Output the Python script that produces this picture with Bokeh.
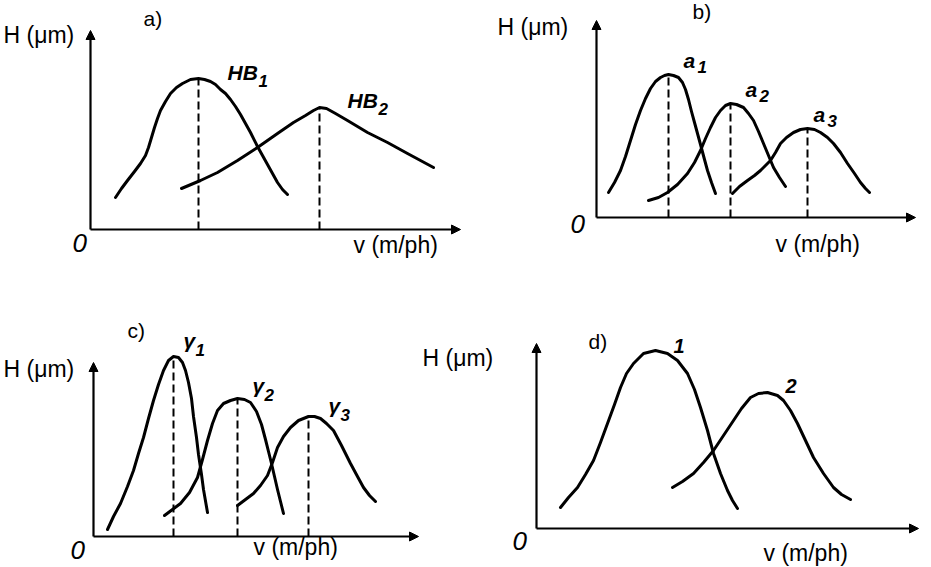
from bokeh.plotting import figure
from bokeh.layouts import column, row
from bokeh.models import Range1d, Arrow, NormalHead
from bokeh.core.properties import value
from bokeh.embed import file_html
from bokeh.resources import INLINE

# ---------------- data (arbitrary units: v along x, H along y) ----------------
# panel a
a_hb1_v = [25, 31, 37, 44, 50, 55, 58, 61, 64, 67, 70, 75, 80, 86, 92, 100, 108, 114, 120, 125, 130, 135, 140, 145, 150, 155, 160, 167, 172, 177, 182, 187, 192, 197]
a_hb1_h = [32, 41, 49, 58, 66, 74, 82, 92, 102, 111, 119, 128, 136, 142, 146, 150, 151, 150, 148, 145, 140, 136, 130, 123, 115, 106, 97, 83, 74, 65, 56, 47, 40, 35]
a_hb2_v = [91, 110, 127, 147, 167, 187, 203, 215, 223, 229, 236, 245, 257, 277, 297, 317, 343]
a_hb2_h = [41, 49, 57, 69, 82, 96, 107, 114, 119, 122, 121, 116, 109, 97, 87, 76, 62]
a_peak_v = [108, 229]
a_peak_h = [151, 122]
a_names = ["HB", "HB"]
a_subs = ["1", "2"]

# panel b
b_a1_v = [12, 18, 24, 29, 34, 39, 44, 49, 54, 59, 64, 68, 72, 77, 82, 86, 89, 92, 95, 98, 101, 104, 108, 111, 115, 119]
b_a1_h = [25, 35, 47, 61, 77, 93, 107, 119, 129, 136, 140, 142, 143, 142, 140, 135, 128, 118, 106, 95, 84, 73, 58, 47, 35, 24]
b_a2_v = [52, 62, 71, 81, 91, 98, 104, 109, 114, 119, 124, 129, 134, 140, 147, 152, 157, 162, 167, 172, 177, 183, 189]
b_a2_h = [17, 20, 25, 33, 44, 55, 67, 79, 90, 100, 107, 112, 114, 113, 110, 104, 97, 86, 74, 62, 50, 40, 31]
b_a3_v = [136, 143, 151, 158, 164, 169, 174, 179, 184, 190, 197, 204, 211, 218, 224, 231, 237, 244, 251, 258, 264, 269, 273]
b_a3_h = [24, 31, 37, 42, 47, 52, 57, 65, 74, 80, 85, 88, 89, 88, 85, 80, 74, 65, 54, 44, 35, 29, 25]
b_peak_v = [72, 134, 211]
b_peak_h = [143, 114, 89]
b_names = ["a", "a", "a"]
b_subs = ["1", "2", "3"]

# panel c
c_g1_v = [14, 20, 27, 34, 40, 45, 50, 55, 60, 65, 70, 75, 80, 85, 89, 92, 95, 98, 100, 103, 105, 108, 110, 114]
c_g1_h = [7, 20, 33, 50, 66, 83, 99, 118, 136, 152, 166, 176, 180, 179, 174, 166, 154, 138, 120, 99, 82, 62, 47, 24]
c_g2_v = [71, 79, 87, 96, 104, 109, 114, 119, 124, 130, 137, 144, 151, 157, 163, 168, 172, 175, 178, 181, 184, 187, 190]
c_g2_h = [21, 27, 33, 44, 59, 77, 96, 113, 126, 133, 136, 138, 137, 134, 125, 112, 97, 85, 73, 60, 47, 35, 23]
c_g3_v = [144, 152, 160, 167, 174, 179, 184, 190, 197, 205, 215, 221, 227, 233, 240, 248, 257, 264, 270, 276, 282]
c_g3_h = [31, 37, 43, 51, 61, 74, 89, 100, 109, 116, 120, 120, 118, 113, 106, 91, 73, 60, 49, 41, 35]
c_peak_v = [80, 144, 215]
c_peak_h = [180, 138, 120]
c_names = ["γ", "γ", "γ"]
c_subs = ["1", "2", "3"]

# panel d
d_c1_v = [24, 32, 41, 49, 57, 64, 71, 78, 84, 90, 97, 107, 119, 131, 141, 151, 158, 164, 171, 177, 184, 191, 196, 201]
d_c1_h = [21, 31, 41, 54, 68, 86, 105, 124, 141, 155, 165, 175, 178, 175, 168, 155, 139, 121, 98, 75, 55, 38, 28, 20]
d_c2_v = [136, 146, 157, 167, 177, 187, 197, 205, 214, 222, 231, 241, 247, 254, 261, 269, 277, 287, 297, 305, 314]
d_c2_h = [41, 47, 55, 66, 78, 93, 108, 120, 131, 135, 136, 133, 128, 118, 105, 88, 71, 55, 41, 34, 29]
d_names = ["1", "2"]

axis_title_y = "H (μm)"
axis_title_x = "v (m/ph)"
origin_label = "0"
panel_tags = ["a)", "b)", "c)", "d)"]

FONT = "Liberation Sans"


def make_panel(width, height, ox, oy, x_len, y_len):
    p = figure(width=width, height=height, x_range=Range1d(-ox, width - ox),
               y_range=Range1d(oy - height, oy), min_border=0,
               toolbar_location=None, output_backend="svg",
               x_axis_location=None, y_axis_location=None)
    p.grid.visible = False
    p.outline_line_color = None
    p.background_fill_color = "white"
    p.border_fill_color = "white"
    p.add_layout(Arrow(x_start=0, y_start=0, x_end=x_len, y_end=0, line_width=2.2,
                       end=NormalHead(size=9, fill_color="black", line_color="black")))
    p.add_layout(Arrow(x_start=0, y_start=0, x_end=0, y_end=y_len, line_width=2.2,
                       end=NormalHead(size=9, fill_color="black", line_color="black")))
    return p


def put_text(p, x, y, t, size, style="normal", font=FONT):
    p.text(x=[x], y=[y], text=[t], text_font=value(font), text_font_size=f"{size}px",
           text_font_style=style, text_align="left", text_baseline="middle",
           text_color="black")


def common_texts(p, ht, tg, o, vt):
    put_text(p, ht[0], ht[1], axis_title_y, 23)
    put_text(p, tg[0], tg[1], tg[2], 21)
    put_text(p, o[0], o[1], origin_label, 26, style="italic")
    put_text(p, vt[0], vt[1], axis_title_x, 23)


def curve(p, v, h):
    p.line(v, h, line_width=3, line_color="black", line_join="round", line_cap="round")


def dashes(p, pv, ph):
    p.segment(x0=pv, y0=[0] * len(pv), x1=pv, y1=ph, line_width=2,
              line_color="black", line_dash="8 4")


def sub_label(p, x, y, main, sub, size=21, sub_size=17, shift_x=0, drop=8):
    put_text(p, x, y, main, size, style="bold italic")
    p.text(x=[x], y=[y], text=[sub], text_font=value(FONT), text_font_size=f"{sub_size}px",
           text_font_style="bold italic", text_align="left", text_baseline="middle",
           x_offset=shift_x, y_offset=drop, text_color="black")


TOP_H = 288
BOT_H = 278

# ---- panel a
pa = make_panel(468, TOP_H, 90, 229, 370, 199)
curve(pa, a_hb1_v, a_hb1_h)
curve(pa, a_hb2_v, a_hb2_h)
dashes(pa, a_peak_v, a_peak_h)
common_texts(pa, (-87, 195), (53, 211, panel_tags[0]), (-18, -13), (263, -15))
sub_label(pa, 137, 157, a_names[0], a_subs[0], shift_x=31)
sub_label(pa, 257, 129, a_names[1], a_subs[1], shift_x=31)

# ---- panel b
pb = make_panel(455, TOP_H, 128, 217, 319, 197)
curve(pb, b_a1_v, b_a1_h)
curve(pb, b_a2_v, b_a2_h)
curve(pb, b_a3_v, b_a3_h)
dashes(pb, b_peak_v, b_peak_h)
common_texts(pb, (-99, 191), (96, 206, panel_tags[1]), (-26, -6), (179, -26))
sub_label(pb, 87, 157, b_names[0], b_subs[0], shift_x=14, drop=6)
sub_label(pb, 149, 128, b_names[1], b_subs[1], shift_x=14, drop=6)
sub_label(pb, 217, 103, b_names[2], b_subs[2], shift_x=14, drop=6)

# ---- panel c
pc = make_panel(420, BOT_H, 93, 248, 325, 174)
curve(pc, c_g1_v, c_g1_h)
curve(pc, c_g2_v, c_g2_h)
curve(pc, c_g3_v, c_g3_h)
dashes(pc, c_peak_v, c_peak_h)
common_texts(pc, (-90, 168), (34, 206, panel_tags[2]), (-23, -13), (160, -10))
sub_label(pc, 90, 196, c_names[0], c_subs[0], shift_x=12, drop=9)
sub_label(pc, 159, 151, c_names[1], c_subs[1], shift_x=12, drop=9)
sub_label(pc, 235, 131, c_names[2], c_subs[2], shift_x=12, drop=9)

# ---- panel d
pd_ = make_panel(503, BOT_H, 116, 240, 382, 185)
curve(pd_, d_c1_v, d_c1_h)
curve(pd_, d_c2_v, d_c2_h)
common_texts(pd_, (-114, 171), (52, 187, panel_tags[3]), (-24, -12), (227, -24))
put_text(pd_, 137, 183, d_names[0], 20, style="bold italic")
put_text(pd_, 249, 143, d_names[1], 20, style="bold italic")

layout = column(row(pa, pb), row(pc, pd_))
open("out.html", "w").write(file_html(layout, INLINE))
